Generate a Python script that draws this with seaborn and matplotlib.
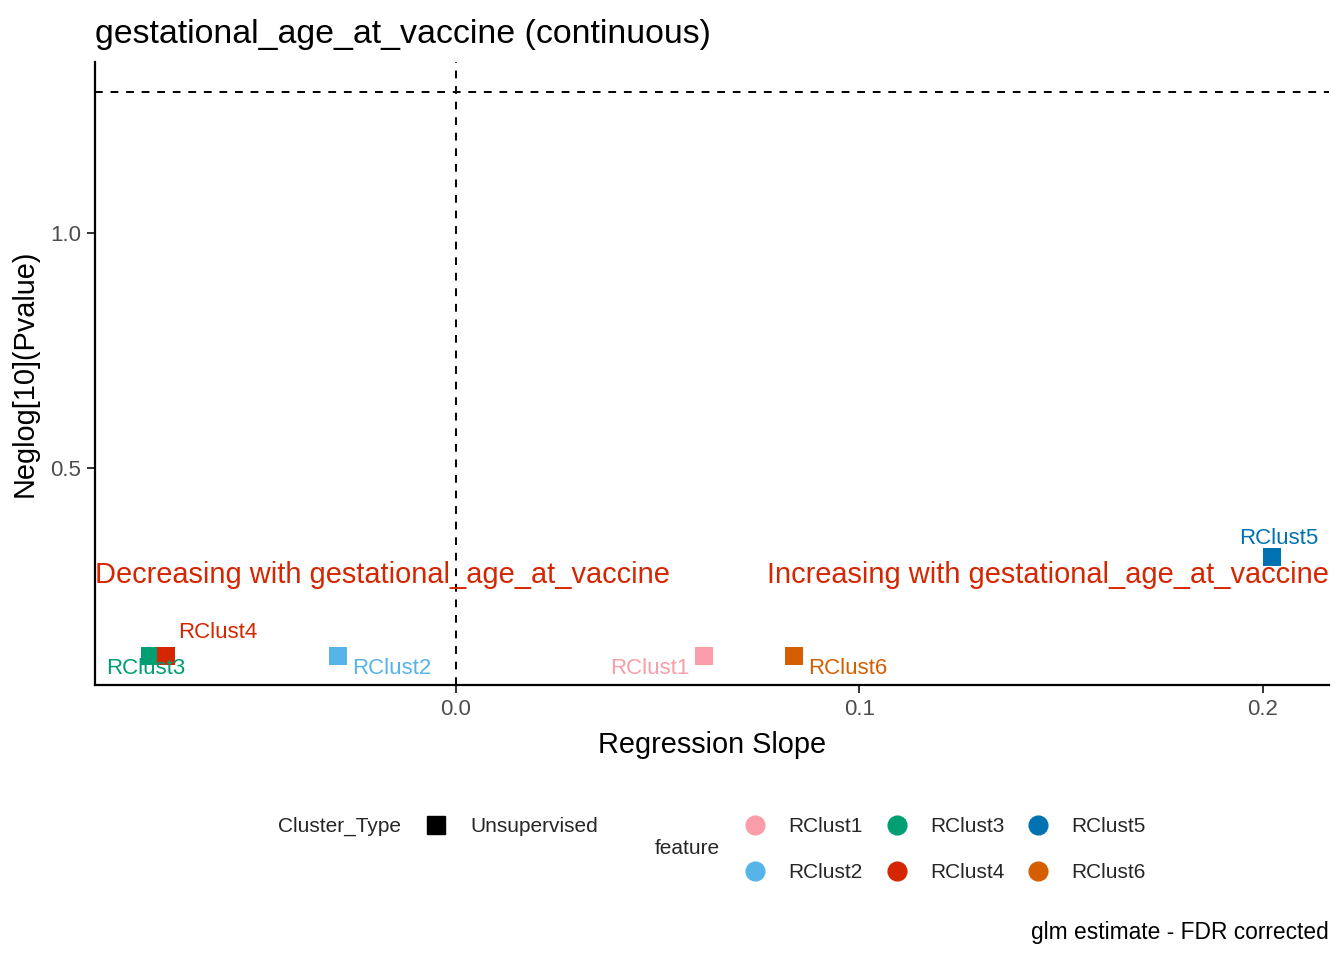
import matplotlib
matplotlib.use("Agg")
import matplotlib.pyplot as plt
import seaborn as sns
import pandas as pd
from matplotlib.lines import Line2D

# ---- data ----
features = ["RClust1", "RClust2", "RClust3", "RClust4", "RClust5", "RClust6"]
slope = [0.0615, -0.0292, -0.0758, -0.0719, 0.2022, 0.0838]
neglogp = [0.100, 0.100, 0.100, 0.100, 0.311, 0.100]
cluster_type = ["Unsupervised"] * 6
colors = ["#FA9DA8", "#56B4E9", "#009E73", "#D42600", "#0072B2", "#D55E00"]
x_ticks = [0.0, 0.1, 0.2]
y_ticks = [0.5, 1.0]
title = "gestational_age_at_vaccine (continuous)"
xlabel = "Regression Slope"
ylabel = "Neglog[10](Pvalue)"
caption = "glm estimate - FDR corrected"
sig_line = 1.301  # -log10(0.05)
ann_left = "Decreasing with gestational_age_at_vaccine"
ann_right = "Increasing with gestational_age_at_vaccine"
ann_y = 0.272

# label offsets in pixels (dx, dy) relative to point
label_offsets = {
    "RClust1": (-54, -12),
    "RClust2": (53, -12),
    "RClust3": (-5, -12),
    "RClust4": (52, 24),
    "RClust5": (7, 18),
    "RClust6": (54, -12),
}

df = pd.DataFrame({"feature": features, "slope": slope, "neglogp": neglogp,
                   "Cluster_Type": cluster_type})
palette = dict(zip(features, colors))

sns.set_theme(style="white")
plt.rcParams["font.family"] = ["Liberation Sans", "DejaVu Sans"]

fig = plt.figure(figsize=(13.44, 9.6), dpi=100)
W, H = 1344, 960
ax = fig.add_axes([95 / W, 1 - 685 / H, (1329 - 95) / W, (685 - 62) / H])

sns.scatterplot(data=df, x="slope", y="neglogp", hue="feature", palette=palette,
                marker="s", s=175, linewidth=0, ax=ax, legend=False, zorder=3)

ax.set_xlim(-0.0895, 0.2164)
ax.set_ylim(0.0383, 1.3638)
ax.axhline(sig_line, color="black", linestyle=(0, (4, 4)), linewidth=1.4, zorder=1)
ax.axvline(0.0, color="black", linestyle=(0, (4, 4)), linewidth=1.4, zorder=1)

for f, xv, yv in zip(features, slope, neglogp):
    dx, dy = label_offsets[f]
    ax.annotate(f, (xv, yv), xytext=(dx, dy), textcoords="offset pixels",
                ha="center", va="center", fontsize=16, color=palette[f], zorder=4)

ax.text(0.0, ann_y, ann_left, transform=ax.get_yaxis_transform(), ha="left",
        va="center", fontsize=20.9, color="#D42600", zorder=2)
ax.text(1.0, ann_y, ann_right, transform=ax.get_yaxis_transform(), ha="right",
        va="center", fontsize=20.9, color="#D42600", zorder=2)

ax.set_xticks(x_ticks)
ax.set_xticklabels([f"{t:.1f}" for t in x_ticks])
ax.set_yticks(y_ticks)
ax.set_yticklabels([f"{t:.1f}" for t in y_ticks])
ax.tick_params(axis="both", which="both", length=6, width=1.4, color="#333333",
               labelsize=16, labelcolor="#4D4D4D", pad=4, direction="out")
ax.tick_params(bottom=True, left=True)
for side in ["top", "right"]:
    ax.spines[side].set_visible(False)
for side in ["left", "bottom"]:
    ax.spines[side].set_color("black")
    ax.spines[side].set_linewidth(1.6)

ax.set_xlabel(xlabel, fontsize=20.8, color="black", labelpad=8)
ax.set_ylabel(ylabel, fontsize=20.8, color="black", labelpad=8)

fig.text(95 / W, 1 - 43 / H, title, fontsize=24.4, ha="left", va="baseline",
         color="black")
fig.text(1329 / W, 1 - 933 / H, caption, fontsize=16.4, ha="right", va="center",
         color="black")

# ---- legends (manual layout at bottom) ----
lfs = 15
fig.text(278 / W, 1 - 826 / H, "Cluster_Type", fontsize=lfs, ha="left", va="center")
fig.add_artist(Line2D([436 / W], [1 - 825 / H], marker="s", markersize=13,
                      color="black", linestyle="none", transform=fig.transFigure))
fig.text(470 / W, 1 - 826 / H, "Unsupervised", fontsize=lfs, ha="left", va="center")
fig.text(655 / W, 1 - 849 / H, "feature", fontsize=lfs, ha="left", va="center")
col_x = [755, 897, 1038]
row_y = [825, 871]
for i, f in enumerate(features):
    c, r = divmod(i, 2)
    fig.add_artist(Line2D([col_x[c] / W], [1 - row_y[r] / H], marker="o",
                          markersize=13.5, color=palette[f], linestyle="none",
                          transform=fig.transFigure))
    fig.text((col_x[c] + 33) / W, 1 - (row_y[r] + 1) / H, f, fontsize=lfs,
             ha="left", va="center")

fig.savefig("out.png", dpi=100)
